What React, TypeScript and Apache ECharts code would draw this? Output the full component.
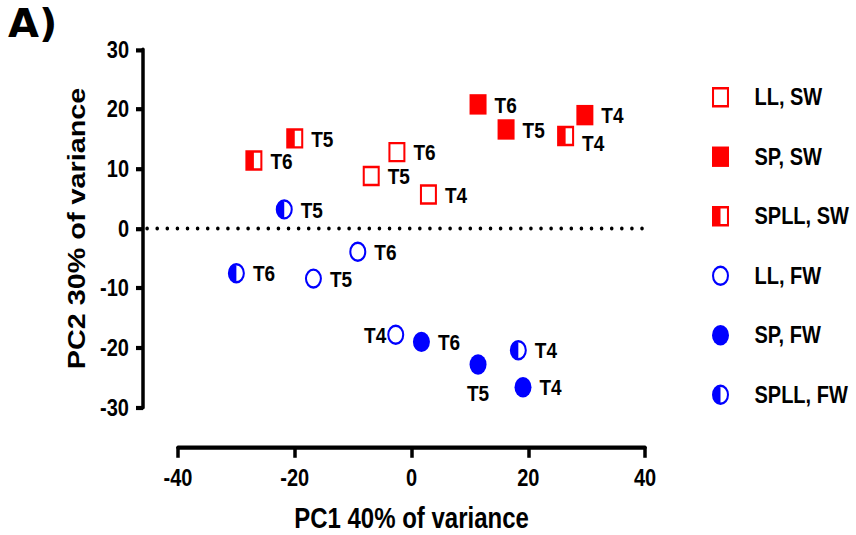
import React, { useEffect, useRef } from "react";
import * as echarts from "echarts";

// Principal component scores per group (PC1, PC2) with their time-point labels
const groupNames = ["LL, SW", "SP, SW", "SPLL, SW", "LL, FW", "SP, FW", "SPLL, FW"];

const llSwPc1 = [2.9, -6.9, -2.5];
const llSwPc2 = [5.7, 8.8, 12.8];
const llSwTimes = ["T4", "T5", "T6"];

const spSwPc1 = [29.7, 16.2, 11.4];
const spSwPc2 = [19.0, 16.6, 20.8];
const spSwTimes = ["T4", "T5", "T6"];

const spllSwPc1 = [26.4, -20.0, -27.0];
const spllSwPc2 = [15.5, 15.1, 11.4];
const spllSwTimes = ["T4", "T5", "T6"];

const llFwPc1 = [-2.7, -16.8, -9.2];
const llFwPc2 = [-17.8, -8.4, -3.9];
const llFwTimes = ["T4", "T5", "T6"];

const spFwPc1 = [19.1, 11.4, 1.7];
const spFwPc2 = [-26.6, -22.8, -19.0];
const spFwTimes = ["T4", "T5", "T6"];

const spllFwPc1 = [18.3, -21.8, -30.0];
const spllFwPc2 = [-20.4, 3.2, -7.5];
const spllFwTimes = ["T4", "T5", "T6"];

const xTicks = [-40, -20, 0, 20, 40];
const yTicks = [-30, -20, -10, 0, 10, 20, 30];

// Zero reference line runs from the y axis across the plot
const zeroLineX = [-45.3, 40];

// Label placements that differ from the default "right of the marker"
const labelPlacement: Record<string, any> = {
  "SPLL, SW|T4": { position: "right", offset: [0, 6] },
  "LL, FW|T4": { position: "left", distance: 1 },
  "SP, FW|T5": { position: "bottom", distance: 6 },
};

// Marker shapes as filled paths (frames use reversed inner contours)
const SQUARE_OPEN = "path://M0 0H100V100H0Z M12 12V88H88V12Z";
const SQUARE_FULL = "path://M0 0H100V100H0Z";
const SQUARE_HALF = "path://M0 0H100V100H0Z M12 12V88H88V12Z M0 0H50V100H0Z";
const CIRCLE_OPEN =
  "path://M50 0A50 50 0 1 1 50 100A50 50 0 1 1 50 0Z M50 12A38 38 0 1 0 50 88A38 38 0 1 0 50 12Z";
const CIRCLE_FULL = "path://M50 0A50 50 0 1 1 50 100A50 50 0 1 1 50 0Z";
const CIRCLE_HALF =
  "path://M50 0A50 50 0 1 1 50 100A50 50 0 1 1 50 0Z M50 12A38 38 0 1 0 50 88A38 38 0 1 0 50 12Z M50 100A50 50 0 0 1 50 0Z";

const RED = "#ff0000";
const BLUE = "#0000ff";
const FONT = "Arial, 'Liberation Sans', Helvetica, sans-serif";

const STRETCH = 1.2;
const W = 856;
const H = 535;
const innerH = 446;

function groupSeries(name: string, xs: number[], ys: number[], times: string[], symbol: string, color: string) {
  return {
    type: "scatter",
    name,
    symbol,
    symbolSize: 17,
    itemStyle: { color, opacity: 1 },
    label: {
      show: true,
      position: "right",
      distance: 8,
      formatter: "{b}",
      color: "#000",
      fontSize: 19,
      fontWeight: "bold",
      fontFamily: FONT,
    },
    emphasis: { disabled: true },
    data: xs.map((x, i) => {
      const item: any = { value: [x, ys[i]], name: times[i] };
      const place = labelPlacement[name + "|" + times[i]];
      if (place) item.label = place;
      return item;
    }),
  };
}

export default function App() {
  const ref = useRef<HTMLDivElement>(null);

  useEffect(() => {
    const chart = echarts.init(ref.current!, null, { renderer: "svg", width: W, height: innerH });
    const axisLine = { show: true, onZero: false, lineStyle: { color: "#000", width: 3.5 } };
    const axisTickStyle = { color: "#000", width: 3.5 };
    chart.setOption({
      animation: false,
      backgroundColor: "#fff",
      grid: { left: 178, width: 467, top: 41.25, height: 298.33, outerBoundsMode: "none", containLabel: false },
      xAxis: {
        type: "value",
        min: xTicks[0],
        max: xTicks[xTicks.length - 1],
        interval: 20,
        offset: 32.9,
        axisLine,
        axisTick: { show: true, length: 9, lineStyle: axisTickStyle },
        splitLine: { show: false },
        axisLabel: { margin: 16, color: "#000", fontSize: 20, fontWeight: "bold", fontFamily: FONT },
        name: "PC1 40% of variance",
        nameLocation: "middle",
        nameGap: 49,
        nameTextStyle: { color: "#000", fontSize: 24, lineHeight: 20, fontWeight: "bold", fontFamily: FONT },
      },
      yAxis: {
        type: "value",
        min: yTicks[0],
        max: yTicks[yTicks.length - 1],
        interval: 10,
        offset: 35,
        axisLine,
        axisTick: { show: true, length: 7, lineStyle: axisTickStyle },
        splitLine: { show: false },
        axisLabel: { margin: 14, color: "#000", fontSize: 20, fontWeight: "bold", fontFamily: FONT },
        name: "PC2 30% of variance",
        nameLocation: "middle",
        nameGap: 53,
        nameTextStyle: { color: "#000", fontSize: 24, fontWeight: "bold", fontFamily: FONT },
      },
      legend: {
        data: groupNames,
        orient: "vertical",
        left: 712,
        top: 71,
        padding: 0,
        itemWidth: 58,
        itemHeight: 17,
        itemGap: 29.6,
        symbolKeepAspect: true,
        selectedMode: false,
        textStyle: { color: "#000", fontSize: 20, fontWeight: "bold", fontFamily: FONT },
      },
      series: [
        groupSeries(groupNames[0], llSwPc1, llSwPc2, llSwTimes, SQUARE_OPEN, RED),
        groupSeries(groupNames[1], spSwPc1, spSwPc2, spSwTimes, SQUARE_FULL, RED),
        groupSeries(groupNames[2], spllSwPc1, spllSwPc2, spllSwTimes, SQUARE_HALF, RED),
        groupSeries(groupNames[3], llFwPc1, llFwPc2, llFwTimes, CIRCLE_OPEN, BLUE),
        groupSeries(groupNames[4], spFwPc1, spFwPc2, spFwTimes, CIRCLE_FULL, BLUE),
        groupSeries(groupNames[5], spllFwPc1, spllFwPc2, spllFwTimes, CIRCLE_HALF, BLUE),
      ],
    });

    // Panel letter and the dotted zero line, placed through the cartesian scale
    const p0 = chart.convertToPixel({ gridIndex: 0 }, [zeroLineX[0], 0]) as number[];
    const p1 = chart.convertToPixel({ gridIndex: 0 }, [zeroLineX[1], 0]) as number[];
    chart.setOption({
      graphic: [
        {
          type: "text",
          x: 8,
          y: 4,
          scaleX: 1.25,
          style: { text: "A)", fill: "#000", fontSize: 32, fontWeight: "bold", fontFamily: "'DejaVu Sans', sans-serif" },
        },
        {
          type: "line",
          silent: true,
          z: 1,
          shape: { x1: p0[0], y1: p0[1], x2: p1[0], y2: p1[1] },
          style: { stroke: "#000", lineWidth: 3.5, lineDash: [0.1, 10], lineCap: "round" },
        },
      ],
    });
    return () => chart.dispose();
  }, []);

  return (
    <div style={{ position: "fixed", left: 0, top: 0, width: W, height: H, overflow: "hidden", background: "#fff" }}>
      <div
        ref={ref}
        style={{ width: W, height: innerH, transform: `scaleY(${STRETCH})`, transformOrigin: "0 0" }}
      />
    </div>
  );
}
